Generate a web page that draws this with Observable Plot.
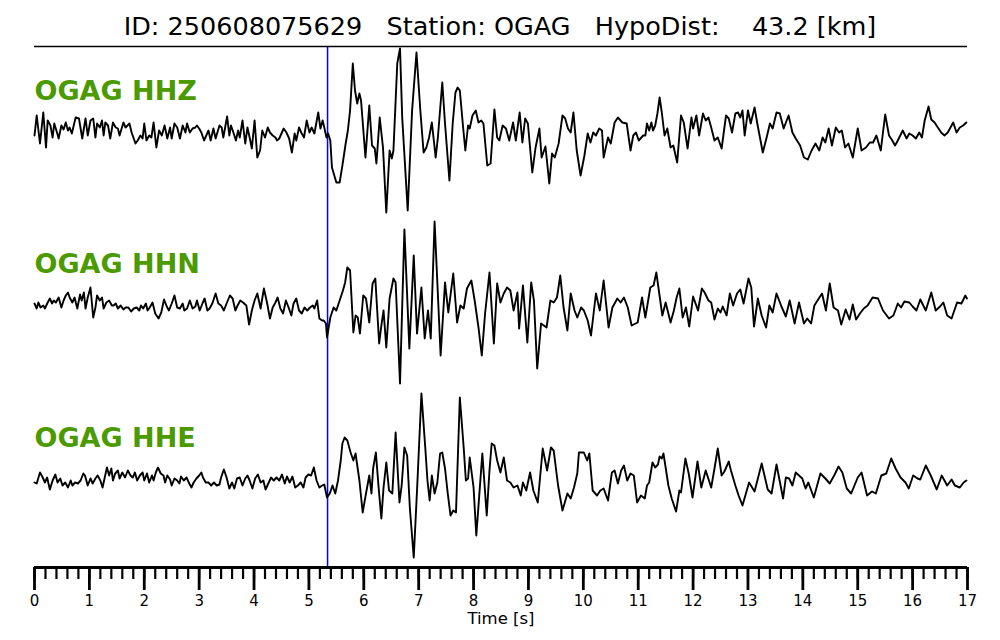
<!DOCTYPE html>
<html><head><meta charset="utf-8">
<script src="https://cdn.jsdelivr.net/npm/d3@7"></script>
<script src="https://cdn.jsdelivr.net/npm/@observablehq/plot@0.6"></script>
<style>
body{margin:0;background:#fff;font-family:"DejaVu Sans",sans-serif;}
#wrap{width:1000px;height:640px;position:relative;overflow:hidden;background:#fff;}
#title{height:44px;box-sizing:border-box;padding-top:11px;line-height:30px;font-size:25.5px;text-align:center;white-space:pre;color:#000;font-family:"DejaVu Sans",sans-serif;}
#chart svg{display:block;overflow:visible;}
</style></head><body><div id="wrap"><div id="title"></div><div id="chart"></div></div>
<script>
const eventId = "250608075629";
const station = "OGAG";
const hypoDist = 43.2;
const channels = ["HHZ", "HHN", "HHE"];
const pPick = 5.34;
const majorTicks = d3.range(0, 18, 1);
const minorTicks = d3.range(0, 17.001, 0.2);

// [time s, amplitude (counts, arbitrary)]
const hhz = [[0,-7],[0.04,13],[0.10,-15],[0.16,16],[0.21,-19],[0.24,8],[0.29,3],[0.33,-9],[0.36,5],[0.41,-4],[0.44,-10],[0.49,3],[0.53,-1],[0.57,6],[0.61,-2],[0.64,1],[0.68,-5],[0.75,11],[0.81,10],[0.87,-10],[0.93,10],[0.97,-7],[1.02,8],[1.07,10],[1.11,-9],[1.14,5],[1.19,1],[1.23,8],[1.26,-7],[1.29,6],[1.34,3],[1.38,-10],[1.43,6],[1.48,1],[1.52,0],[1.55,-7],[1.62,6],[1.66,1],[1.73,5],[1.77,-4],[1.84,-15],[1.88,-12],[1.93,-7],[1.97,-10],[2.00,5],[2.04,-12],[2.09,-7],[2.13,-9],[2.17,6],[2.22,-19],[2.27,-2],[2.32,-7],[2.37,3],[2.42,-10],[2.47,1],[2.50,-10],[2.55,5],[2.60,1],[2.65,-10],[2.70,3],[2.75,-4],[2.78,5],[2.83,-4],[2.88,0],[2.93,1],[2.96,3],[3.00,0],[3.04,-4],[3.09,-12],[3.13,-7],[3.17,-2],[3.21,-12],[3.26,0],[3.30,-10],[3.37,3],[3.41,1],[3.44,-9],[3.51,12],[3.55,-7],[3.58,3],[3.63,-5],[3.67,-12],[3.71,-2],[3.74,-9],[3.79,8],[3.84,-15],[3.88,1],[3.92,-9],[3.96,-20],[4.01,8],[4.06,-29],[4.11,-22],[4.15,-2],[4.20,-9],[4.25,1],[4.29,-4],[4.34,-7],[4.39,-9],[4.42,-12],[4.46,-10],[4.50,-5],[4.54,0],[4.59,-4],[4.64,-10],[4.69,-24],[4.74,-5],[4.77,-12],[4.82,1],[4.86,-4],[4.91,-9],[4.96,8],[5.01,-4],[5.05,1],[5.10,-5],[5.17,16],[5.21,0],[5.25,8],[5.28,1],[5.32,-9],[5.35,-5],[5.39,-12],[5.42,-39],[5.50,-54],[5.56,-54],[5.61,-37],[5.67,-15],[5.71,-2],[5.75,18],[5.80,65],[5.84,38],[5.88,25],[5.92,35],[5.95,28],[6.03,-29],[6.10,23],[6.15,-17],[6.20,-20],[6.23,-35],[6.29,11],[6.35,-19],[6.41,-84],[6.47,-22],[6.51,-30],[6.54,-22],[6.61,65],[6.66,80],[6.70,11],[6.80,-82],[6.88,18],[6.96,76],[7.03,18],[7.09,-24],[7.14,-19],[7.19,-9],[7.24,6],[7.31,-29],[7.35,-9],[7.43,46],[7.48,5],[7.56,-52],[7.62,5],[7.67,36],[7.71,41],[7.75,38],[7.81,1],[7.85,-22],[7.90,3],[7.93,0],[7.98,13],[8.04,18],[8.09,6],[8.14,8],[8.18,5],[8.25,-37],[8.31,-35],[8.38,19],[8.43,-9],[8.47,-12],[8.53,3],[8.59,0],[8.65,-12],[8.72,6],[8.77,-12],[8.84,16],[8.89,-14],[8.94,10],[8.99,5],[9.07,-44],[9.13,-19],[9.20,0],[9.24,-29],[9.31,-18],[9.38,-55],[9.43,-25],[9.48,-29],[9.55,-15],[9.62,13],[9.67,10],[9.72,0],[9.77,-4],[9.82,16],[9.88,-22],[9.95,-47],[10.02,-27],[10.08,-5],[10.13,-14],[10.18,-4],[10.23,-7],[10.29,0],[10.34,-2],[10.37,-29],[10.45,-9],[10.50,-15],[10.57,6],[10.63,11],[10.71,6],[10.79,5],[10.86,-22],[10.91,-7],[10.96,-4],[11.01,-12],[11.09,-7],[11.13,-7],[11.16,5],[11.20,-2],[11.24,6],[11.27,-2],[11.31,3],[11.35,15],[11.39,31],[11.43,16],[11.48,-7],[11.53,0],[11.59,-19],[11.64,-17],[11.71,-34],[11.78,13],[11.83,6],[11.90,-20],[11.97,11],[12.00,0],[12.06,13],[12.11,-7],[12.18,15],[12.23,8],[12.28,11],[12.33,1],[12.39,-12],[12.45,-9],[12.52,-20],[12.60,13],[12.65,10],[12.71,-4],[12.77,15],[12.82,16],[12.86,11],[12.90,18],[12.94,-7],[13.00,18],[13.05,5],[13.12,21],[13.17,5],[13.27,-24],[13.34,-9],[13.40,5],[13.45,0],[13.52,16],[13.58,15],[13.65,0],[13.74,13],[13.81,-4],[13.87,-10],[13.95,-17],[14.02,-29],[14.09,-31],[14.16,-22],[14.23,-15],[14.30,-22],[14.36,-9],[14.41,-14],[14.47,0],[14.53,-17],[14.60,1],[14.66,-4],[14.71,-2],[14.77,-19],[14.83,-15],[14.91,-29],[15.00,0],[15.07,-22],[15.15,-19],[15.22,-14],[15.28,-14],[15.34,-7],[15.42,-22],[15.50,14],[15.57,-7],[15.63,-12],[15.68,-17],[15.73,-12],[15.82,-2],[15.89,-10],[15.94,-5],[16.00,-7],[16.06,-10],[16.12,-4],[16.17,-9],[16.22,8],[16.29,22],[16.34,9],[16.40,6],[16.46,1],[16.52,-4],[16.58,-7],[16.64,-4],[16.74,6],[16.80,-4],[16.86,1],[16.92,3],[16.98,6]];

const hhn = [[0,1],[0.04,-4],[0.07,2],[0.11,-3],[0.16,-1],[0.19,-4],[0.24,2],[0.28,6],[0.32,1],[0.35,4],[0.39,2],[0.44,7],[0.49,-3],[0.53,4],[0.57,9],[0.61,12],[0.64,7],[0.69,2],[0.73,7],[0.78,-4],[0.83,10],[0.86,4],[0.90,12],[0.93,-4],[0.97,7],[1.02,17],[1.07,-13],[1.11,-3],[1.14,9],[1.19,4],[1.23,7],[1.26,-4],[1.31,2],[1.36,4],[1.41,-1],[1.44,-1],[1.48,1],[1.52,-4],[1.57,-1],[1.62,-5],[1.66,-3],[1.71,-3],[1.76,-7],[1.81,-4],[1.86,-3],[1.91,-6],[1.94,-1],[1.98,-4],[2.03,1],[2.06,-6],[2.10,-3],[2.15,2],[2.20,-9],[2.26,-14],[2.31,-8],[2.36,5],[2.41,-2],[2.45,-6],[2.50,1],[2.55,9],[2.60,-3],[2.65,-4],[2.70,1],[2.73,-6],[2.78,-4],[2.83,4],[2.88,-4],[2.93,-2],[2.96,4],[3.01,-6],[3.06,1],[3.10,6],[3.15,-6],[3.19,-4],[3.24,1],[3.30,11],[3.35,1],[3.40,-1],[3.45,-6],[3.50,1],[3.56,9],[3.61,6],[3.66,-6],[3.70,-1],[3.75,4],[3.80,2],[3.86,-1],[3.91,-20],[3.96,-6],[4.01,4],[4.06,11],[4.12,-4],[4.18,16],[4.24,1],[4.29,-14],[4.34,-3],[4.39,2],[4.43,7],[4.48,-4],[4.53,-9],[4.58,4],[4.63,-3],[4.68,-11],[4.72,1],[4.77,6],[4.82,-6],[4.87,-9],[4.92,-3],[4.97,-6],[5.02,-3],[5.07,-1],[5.10,-4],[5.15,4],[5.19,-14],[5.24,-16],[5.27,-16],[5.31,-19],[5.33,-33],[5.39,-13],[5.45,-3],[5.50,-6],[5.56,4],[5.62,14],[5.66,22],[5.70,37],[5.75,34],[5.81,-28],[5.85,-11],[5.89,-13],[5.93,-29],[5.99,9],[6.04,6],[6.10,-18],[6.16,21],[6.21,26],[6.28,-39],[6.32,-21],[6.36,-6],[6.41,-43],[6.47,6],[6.54,26],[6.58,22],[6.66,-79],[6.74,75],[6.83,-44],[6.91,49],[6.97,-29],[7.05,17],[7.11,-34],[7.17,-6],[7.22,-34],[7.29,83],[7.40,-51],[7.48,22],[7.54,-8],[7.63,31],[7.70,-18],[7.76,-1],[7.82,-4],[7.88,16],[7.96,24],[8.02,4],[8.09,-23],[8.15,-51],[8.21,-9],[8.29,32],[8.37,-39],[8.43,21],[8.49,2],[8.55,11],[8.61,17],[8.67,14],[8.73,-6],[8.80,12],[8.83,-24],[8.90,19],[8.98,-38],[9.05,22],[9.10,4],[9.16,-64],[9.23,-19],[9.33,-23],[9.40,4],[9.46,2],[9.52,7],[9.58,29],[9.64,-3],[9.71,-26],[9.77,11],[9.84,-6],[9.89,-13],[9.96,-3],[10.01,-6],[10.08,-16],[10.14,-31],[10.23,11],[10.30,-6],[10.37,24],[10.46,-23],[10.53,-3],[10.62,6],[10.68,2],[10.74,7],[10.81,-3],[10.88,-21],[10.99,-18],[11.07,7],[11.13,-13],[11.22,17],[11.28,19],[11.33,32],[11.44,-11],[11.50,2],[11.59,-18],[11.65,-6],[11.70,7],[11.75,16],[11.81,-13],[11.87,-3],[11.93,-22],[12.00,8],[12.09,-6],[12.16,16],[12.21,12],[12.28,4],[12.33,2],[12.39,-15],[12.45,-4],[12.50,-8],[12.54,-2],[12.61,-11],[12.67,11],[12.73,-1],[12.80,11],[12.86,15],[12.92,1],[13.01,26],[13.06,17],[13.11,-22],[13.18,6],[13.25,-11],[13.33,-23],[13.39,-1],[13.45,-8],[13.52,11],[13.61,-2],[13.69,-12],[13.76,4],[13.85,-19],[13.93,2],[14.02,-19],[14.08,-14],[14.15,-19],[14.21,-1],[14.29,6],[14.35,11],[14.42,-6],[14.49,21],[14.56,-3],[14.64,-6],[14.70,-20],[14.78,-5],[14.85,-15],[14.91,0],[14.97,-15],[15.04,-9],[15.11,-4],[15.18,-1],[15.27,7],[15.37,6],[15.46,-6],[15.57,-14],[15.65,-11],[15.73,1],[15.79,-3],[15.85,3],[15.94,2],[16.00,-2],[16.07,-6],[16.14,5],[16.24,-6],[16.34,12],[16.42,-6],[16.50,-2],[16.56,2],[16.63,-11],[16.71,-14],[16.81,2],[16.89,1],[16.96,9],[16.99,6]];

const hhe = [[0,-2],[0.04,-3],[0.10,8],[0.15,3],[0.19,-2],[0.23,3],[0.28,-9],[0.33,0],[0.38,6],[0.42,-2],[0.47,2],[0.51,-5],[0.56,-2],[0.61,-7],[0.66,0],[0.69,-5],[0.74,-2],[0.79,-3],[0.84,0],[0.89,7],[0.92,5],[0.97,-5],[1.02,2],[1.06,-3],[1.11,2],[1.15,5],[1.20,0],[1.24,-7],[1.28,3],[1.32,13],[1.36,5],[1.40,12],[1.43,0],[1.47,7],[1.52,10],[1.55,2],[1.60,8],[1.65,3],[1.70,10],[1.75,5],[1.79,3],[1.83,8],[1.87,0],[1.92,5],[1.97,8],[2.00,0],[2.05,7],[2.09,-2],[2.14,5],[2.17,0],[2.21,8],[2.25,13],[2.30,7],[2.35,5],[2.38,-2],[2.42,5],[2.47,1],[2.50,-5],[2.55,2],[2.60,0],[2.64,-3],[2.67,4],[2.72,0],[2.77,3],[2.82,-3],[2.86,-7],[2.90,-2],[2.95,2],[3.00,5],[3.04,8],[3.07,3],[3.12,-2],[3.17,-2],[3.22,-5],[3.27,-2],[3.32,-5],[3.37,-4],[3.40,3],[3.45,11],[3.50,3],[3.55,-8],[3.60,-2],[3.64,-8],[3.69,2],[3.74,3],[3.79,-5],[3.84,2],[3.88,5],[3.92,0],[3.97,-8],[4.02,2],[4.07,6],[4.12,-2],[4.17,0],[4.21,-9],[4.26,-3],[4.31,3],[4.36,0],[4.41,3],[4.46,0],[4.51,6],[4.56,-3],[4.60,4],[4.65,-2],[4.70,4],[4.75,-7],[4.80,-5],[4.85,-2],[4.90,-7],[4.94,3],[4.99,6],[5.04,5],[5.09,13],[5.14,0],[5.19,-7],[5.24,-5],[5.28,-4],[5.33,-17],[5.38,-13],[5.43,-5],[5.48,-13],[5.53,0],[5.58,20],[5.61,37],[5.65,43],[5.70,40],[5.76,28],[5.81,20],[5.85,27],[5.92,0],[5.98,-32],[6.04,-13],[6.10,5],[6.14,-13],[6.17,12],[6.22,28],[6.27,-7],[6.32,-38],[6.36,-7],[6.41,18],[6.46,-10],[6.52,-13],[6.58,48],[6.65,-22],[6.69,-5],[6.74,33],[6.79,25],[6.84,-28],[6.91,-77],[6.97,-10],[7.05,87],[7.12,33],[7.16,0],[7.20,-20],[7.24,5],[7.29,-13],[7.34,-2],[7.39,27],[7.43,28],[7.48,12],[7.53,-13],[7.58,-35],[7.63,-30],[7.68,-32],[7.75,83],[7.82,33],[7.86,0],[7.90,2],[7.93,23],[8.00,-7],[8.05,-55],[8.16,27],[8.24,-35],[8.29,10],[8.33,37],[8.38,35],[8.43,20],[8.49,8],[8.55,23],[8.61,0],[8.67,-2],[8.73,-7],[8.80,-5],[8.86,-15],[8.90,-2],[8.96,-10],[9.03,8],[9.09,-10],[9.17,-22],[9.26,32],[9.34,10],[9.41,33],[9.46,30],[9.54,-5],[9.62,-30],[9.71,-13],[9.77,-18],[9.83,-7],[9.89,7],[9.92,28],[10.01,28],[10.07,20],[10.11,27],[10.17,-10],[10.25,-15],[10.31,-10],[10.37,-8],[10.45,-20],[10.52,8],[10.57,10],[10.63,-3],[10.69,10],[10.74,15],[10.80,0],[10.86,7],[10.92,5],[10.98,-22],[11.05,-15],[11.12,-18],[11.16,-5],[11.20,-2],[11.26,18],[11.31,13],[11.36,16],[11.39,24],[11.43,22],[11.46,27],[11.50,13],[11.55,-5],[11.61,-18],[11.69,-31],[11.75,-10],[11.78,-12],[11.86,22],[11.92,7],[11.99,-17],[12.08,19],[12.15,-7],[12.23,10],[12.33,-7],[12.39,12],[12.45,32],[12.52,5],[12.57,9],[12.65,19],[12.69,10],[12.77,-5],[12.83,-15],[12.90,-25],[13.02,-2],[13.12,-11],[13.25,17],[13.36,-9],[13.43,-13],[13.52,16],[13.64,-18],[13.69,3],[13.75,2],[13.81,-5],[13.87,8],[13.93,5],[13.99,2],[14.05,-8],[14.10,-2],[14.20,-17],[14.32,7],[14.41,2],[14.49,-3],[14.58,6],[14.65,14],[14.72,8],[14.80,-8],[14.88,-13],[15.00,3],[15.07,8],[15.17,-15],[15.26,-11],[15.33,-13],[15.43,5],[15.52,7],[15.61,22],[15.69,12],[15.78,3],[15.87,-2],[15.93,-8],[16.01,5],[16.09,2],[16.14,1],[16.24,15],[16.33,5],[16.44,-9],[16.53,5],[16.63,-5],[16.71,1],[16.77,-5],[16.86,-7],[16.93,-2],[16.98,0]];

document.getElementById("title").textContent =
  `ID: ${eventId}   Station: ${station}   HypoDist: ${hypoDist.toFixed(1).padStart(7)} [km]`;

const traces = [hhz, hhn, hhe];
const spacing = 176;
const yTop = 82, yBottom = -439;
const rows = [];
traces.forEach((tr, i) => tr.forEach(([t, a]) => rows.push({ch: channels[i], t, y: a - i * spacing})));
const labelLift = [37, 40, 42];
const labels = channels.map((c, i) => ({text: `${station} ${c}`, y: -i * spacing + labelLift[i]}));

const chart = Plot.plot({
  width: 1000, height: 596,
  marginLeft: 34, marginRight: 33, marginTop: 2, marginBottom: 73,
  x: {domain: [0, 17], label: null},
  y: {domain: [yBottom, yTop], axis: null},
  style: {fontFamily: "DejaVu Sans", background: "#fff", color: "#000", fontSize: "15px"},
  marks: [
    Plot.ruleX([pPick], {stroke: "#0000ff", strokeWidth: 1.5}),
    Plot.line(rows, {x: "t", y: "y", z: "ch", stroke: "#000", strokeWidth: 1.9, strokeLinejoin: "round"}),
    Plot.text(labels, {x: 0, y: "y", text: "text", textAnchor: "start", fill: "#4a9a00", fontSize: 27, fontWeight: "bold"}),
    Plot.ruleY([yTop], {stroke: "#000", strokeWidth: 1.5}),
    Plot.ruleY([yBottom], {stroke: "#000", strokeWidth: 3}),
    Plot.axisX({ticks: minorTicks, tickSize: 12, tickFormat: () => "", strokeWidth: 2.2, label: null}),
    Plot.axisX({ticks: majorTicks, tickSize: 23, tickPadding: 5, fontSize: 15, strokeWidth: 2.8, tickFormat: d => String(d), label: null}),
    Plot.text(["Time [s]"], {frameAnchor: "bottom", text: d => d, dy: 56, fontSize: 16.5})
  ]
});
document.getElementById("chart").appendChild(chart);
</script>
</body></html>
